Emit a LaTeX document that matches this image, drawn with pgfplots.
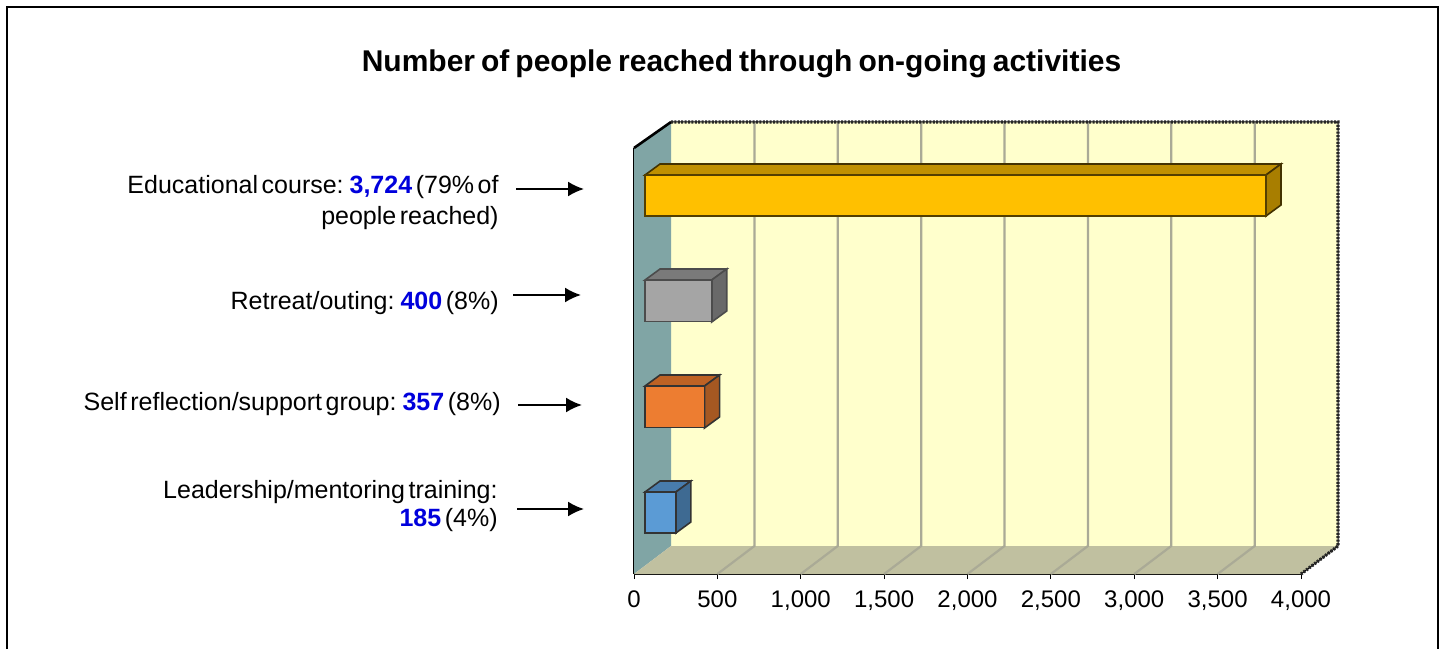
\documentclass[border=0pt]{standalone}
\usepackage{pgfplots}
\pgfplotsset{compat=1.18}
\usepackage{fontspec}
\setmainfont{Liberation Sans}
\usetikzlibrary{arrows.meta}
\definecolor{wallback}{RGB}{255,255,204}
\definecolor{wallside}{RGB}{128,165,165}
\definecolor{wallfloor}{RGB}{192,192,160}
\definecolor{gridc}{RGB}{170,170,150}
\definecolor{yF}{RGB}{255,192,0}\definecolor{yT}{RGB}{192,144,0}\definecolor{yS}{RGB}{168,126,0}
\definecolor{gF}{RGB}{165,165,165}\definecolor{gT}{RGB}{122,122,122}\definecolor{gS}{RGB}{105,105,105}
\definecolor{oF}{RGB}{237,125,49}\definecolor{oT}{RGB}{190,98,36}\definecolor{oS}{RGB}{165,88,34}
\definecolor{bF}{RGB}{91,155,213}\definecolor{bT}{RGB}{72,124,172}\definecolor{bS}{RGB}{62,106,146}
\definecolor{valblue}{RGB}{0,0,220}
\newcommand{\val}[1]{\textcolor{valblue}{\textbf{#1}}}
\newcommand{\tts}{\spaceskip=3pt\relax}
\newcommand{\tls}{\spaceskip=1.8pt\relax}
\begin{document}
\begin{tikzpicture}
\path[use as bounding box] (0,0) rectangle (721.5pt,324.5pt);
\begin{axis}[
  at={(317pt,37.5pt)}, anchor=origin,
  scale only axis, width=333.5pt, height=213pt,
  xmin=0, xmax=4000, ymin=75, ymax=501,
  clip=false,
  axis x line=bottom, axis y line=left,
  axis line style={-, black, line width=1pt},
  xtick={0,500,1000,1500,2000,2500,3000,3500,4000},
  ytick=\empty,
  xtick style={black, line width=0.5pt},
  tick align=center,
  major tick length=5pt,
  x tick label style={font=\fontsize{12}{14}\selectfont, yshift=-2.5pt},
  /pgf/number format/1000 sep={,},
  /pgf/number format/assume math mode=true,
  scaled x ticks=false,
]
% walls
\addplot[fill=wallback, draw=none] coordinates {(222,103) (4222,103) (4222,527) (222,527)} -- cycle;
\addplot[fill=wallside, draw=none] coordinates {(0,75) (222,103) (222,527) (0,501)} -- cycle;
\addplot[fill=wallfloor, draw=none] coordinates {(0,75) (4000,75) (4222,103) (222,103)} -- cycle;
% grid lines
\addplot[gridc, line width=1.1pt] coordinates {(500,75) (722,103) (722,527)};
\addplot[gridc, line width=1.1pt] coordinates {(1000,75) (1222,103) (1222,527)};
\addplot[gridc, line width=1.1pt] coordinates {(1500,75) (1722,103) (1722,527)};
\addplot[gridc, line width=1.1pt] coordinates {(2000,75) (2222,103) (2222,527)};
\addplot[gridc, line width=1.1pt] coordinates {(2500,75) (2722,103) (2722,527)};
\addplot[gridc, line width=1.1pt] coordinates {(3000,75) (3222,103) (3222,527)};
\addplot[gridc, line width=1.1pt] coordinates {(3500,75) (3722,103) (3722,527)};
% wall outlines
\addplot[black, line width=1.3pt] coordinates {(0,501) (222,527)};
\addplot[black, line width=0.5pt] coordinates {(222,527) (4222,527) (4222,103) (4000,75)};
\addplot[black!85, line width=1.6pt, dash pattern=on 1pt off 0.7pt] coordinates {(222,527) (4222,527) (4222,103) (4000,75)};
% educational course
\addplot[fill=yT, draw=black!60!yS, line width=0.8pt] coordinates {(66,474) (3790,474) (3880,485) (156,485)} -- cycle;
\addplot[fill=yS, draw=black!60!yS, line width=0.8pt] coordinates {(3790,474) (3880,485) (3880,444) (3790,433)} -- cycle;
\addplot[xbar, bar width=20.5pt, xshift=5.5pt, fill=yF, draw=black!50!yS, line width=0.8pt] coordinates {(3724,453.5)};
% retreat
\addplot[fill=gT, draw=black!70, line width=0.8pt] coordinates {(66,369) (466,369) (556,380) (156,380)} -- cycle;
\addplot[fill=gS, draw=black!70, line width=0.8pt] coordinates {(466,369) (556,380) (556,338) (466,327)} -- cycle;
\addplot[xbar, bar width=20.5pt, xshift=5.5pt, fill=gF, draw=black!70, line width=0.8pt] coordinates {(400,348)};
% self reflection
\addplot[fill=oT, draw=black!80, line width=0.8pt] coordinates {(66,263) (423,263) (513,274) (156,274)} -- cycle;
\addplot[fill=oS, draw=black!80, line width=0.8pt] coordinates {(423,263) (513,274) (513,232) (423,221)} -- cycle;
\addplot[xbar, bar width=20.5pt, xshift=5.5pt, fill=oF, draw=black!80, line width=0.8pt] coordinates {(357,242)};
% leadership
\addplot[fill=bT, draw=black!80, line width=0.8pt] coordinates {(66,157) (251,157) (341,168) (156,168)} -- cycle;
\addplot[fill=bS, draw=black!80, line width=0.8pt] coordinates {(251,157) (341,168) (341,127) (251,116)} -- cycle;
\addplot[xbar, bar width=20.5pt, xshift=5.5pt, fill=bF, draw=black!80, line width=0.8pt] coordinates {(185,136.5)};
\end{axis}
\begin{scope}[x=0.5pt,y=-0.5pt,yshift=324.5pt]
\draw[black, line width=1pt] (7,649) -- (7,7) -- (1438,7) -- (1438,649);
\node[anchor=base, font=\fontsize{15}{18}\selectfont\bfseries, inner sep=0pt] at (741.5,72) {\tts Number of people reached through on-going activities};
\tikzset{lab/.style={anchor=base east, inner sep=0pt, font=\fontsize{12.5}{15}\selectfont}}
\node[lab] at (499,193) {\tls Educational course: \val{3,724} (79\% of};
\node[lab] at (499,225) {\tls people reached)};
\node[lab] at (499,309) {\tls Retreat/outing: \val{400} (8\%)};
\node[lab] at (501,410) {\tls Self reflection/support group: \val{357} (8\%)};
\node[lab] at (498,498) {\tls Leadership/mentoring training:};
\node[lab] at (498,526) {\tls \val{185} (4\%)};
\tikzset{arr/.style={-{Latex[length=8pt,width=7.5pt]}, line width=1pt, black}}
\draw[arr] (516,189) -- (584,189);
\draw[arr] (513,295) -- (581,295);
\draw[arr] (518,405) -- (582,405);
\draw[arr] (517,509) -- (584,509);
\end{scope}
\end{tikzpicture}
\end{document}
